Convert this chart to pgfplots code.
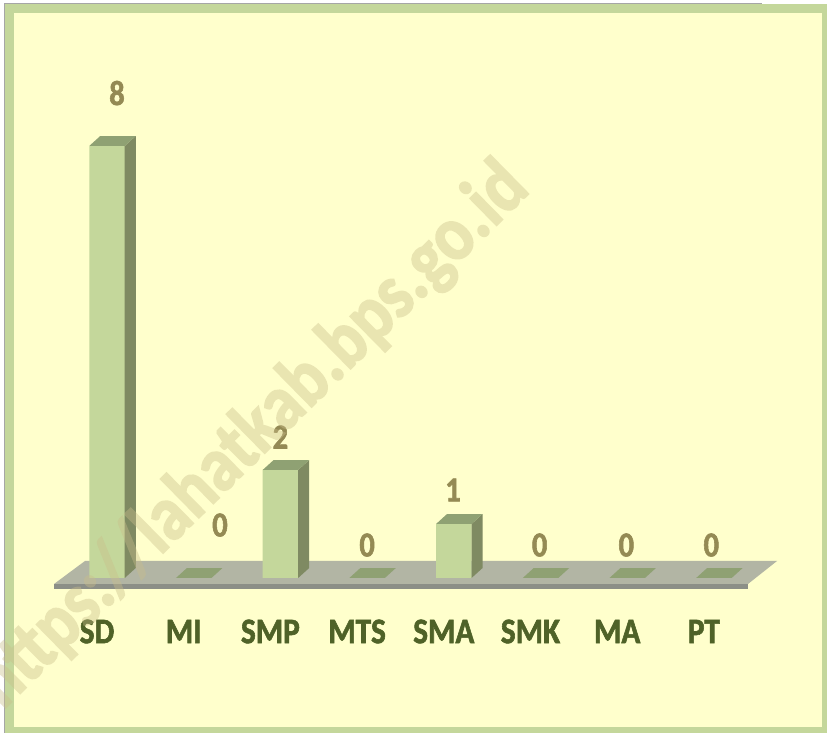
\documentclass[border=0pt]{standalone}
\usepackage{pgfplots}
\pgfplotsset{compat=1.18}
\usepackage{fontspec}
\setmainfont{Carlito}[FakeStretch=0.87]
\newfontfamily\calb{Carlito Bold}[FakeStretch=0.87, FakeBold=1.6]
\newfontfamily\wmfont{Carlito Bold}[FakeStretch=0.87, FakeBold=2]

\definecolor{framegreen}{HTML}{C4D79B}
\definecolor{bgyellow}{HTML}{FFFFCC}
\definecolor{barfront}{HTML}{C4D79B}
\definecolor{barside}{HTML}{7F8A62}
\definecolor{bartop}{HTML}{8FA173}
\definecolor{floortop}{HTML}{B2B5A4}
\definecolor{flooredge}{HTML}{8C8F87}
\definecolor{valcolor}{HTML}{948A54}
\definecolor{catgreen}{HTML}{4F6228}
\definecolor{wmark}{HTML}{C9BE8A}

\begin{document}
\begin{tikzpicture}[x=1pt,y=1pt]
\useasboundingbox (0,0) rectangle (827,733);
% frame
\fill[white] (0,0) rectangle (827,733);
\fill[framegreen] (5,0) rectangle (827,729);
\draw[gray!70, line width=1pt] (4.5,0) -- (4.5,729.5) -- (762,729.5);
\fill[bgyellow] (14,6) rectangle (822,720);

\begin{axis}[
    at={(20.3pt,101pt)}, anchor=south west,
    x=86.7pt, y=54pt,
    xmin=-1, xmax=8, ymin=-1, ymax=10,
    axis line style={draw=none},
    major tick length=0pt,
    ytick=\empty,
    xtick={0,...,7},
    xticklabels={SD,MI,SMP,MTS,SMA,SMK,MA,PT},
    xticklabel style={anchor=center, xshift=-10pt, yshift=0.5pt,
        text=catgreen, font=\calb\fontsize{36}{40}\selectfont},
    clip=false,
]
% floor
\addplot[fill=floortop, draw=none] coordinates
    {(-0.611,-0.111) (7.393,-0.111) (7.728,0.315) (-0.254,0.315)} -- cycle;
\addplot[fill=flooredge, draw=none] coordinates
    {(-0.611,-0.111) (7.393,-0.111) (7.393,-0.204) (-0.611,-0.204)} -- cycle;

% front faces
\addplot[ybar, bar width=35.5pt, fill=barfront, draw=none] coordinates
    {(0,8) (1,0) (2,2) (3,0) (4,1) (5,0) (6,0) (7,0)};

% side faces
\addplot[fill=barside, draw=none] coordinates
    {(0.2047,0) (0.3316,0.185) (0.3316,8.185) (0.2047,8)} -- cycle;
\addplot[fill=barside, draw=none] coordinates
    {(2.2047,0) (2.3316,0.185) (2.3316,2.185) (2.2047,2)} -- cycle;
\addplot[fill=barside, draw=none] coordinates
    {(4.2047,0) (4.3316,0.185) (4.3316,1.185) (4.2047,1)} -- cycle;

% top faces
\addplot[fill=bartop, draw=none] coordinates
    {(-0.2047,8) (0.2047,8) (0.3316,8.185) (-0.0778,8.185)} -- cycle;
\addplot[fill=bartop, draw=none] coordinates
    {(1.7953,2) (2.2047,2) (2.3316,2.185) (1.9222,2.185)} -- cycle;
\addplot[fill=bartop, draw=none] coordinates
    {(3.7953,1) (4.2047,1) (4.3316,1.185) (3.9222,1.185)} -- cycle;
% zero bars
\addplot[fill=bartop, draw=none] coordinates
    {(0.7953,0) (1.2047,0) (1.3316,0.185) (0.9222,0.185)} -- cycle;
\addplot[fill=bartop, draw=none] coordinates
    {(2.7953,0) (3.2047,0) (3.3316,0.185) (2.9222,0.185)} -- cycle;
\addplot[fill=bartop, draw=none] coordinates
    {(4.7953,0) (5.2047,0) (5.3316,0.185) (4.9222,0.185)} -- cycle;
\addplot[fill=bartop, draw=none] coordinates
    {(5.7953,0) (6.2047,0) (6.3316,0.185) (5.9222,0.185)} -- cycle;
\addplot[fill=bartop, draw=none] coordinates
    {(6.7953,0) (7.2047,0) (7.3316,0.185) (6.9222,0.185)} -- cycle;

% value labels
\addplot[draw=none, mark=none, nodes near coords, point meta=explicit symbolic,
    every node near coord/.append style={anchor=center, text=valcolor,
        font=\calb\fontsize{35}{40}\selectfont}]
    coordinates {(0.115,8.98)[8] (1.303,0.98)[0] (2.0,2.61)[2] (3.0,0.61)[0]
                 (3.99,1.63)[1] (4.99,0.61)[0] (5.99,0.61)[0] (6.97,0.61)[0]};
\end{axis}

% watermark
\begin{scope}
\clip (0,0) rectangle (827,733);
\begin{scope}[transparency group, opacity=0.4]
\node[anchor=base, rotate=44.5, text=wmark,
      font=\wmfont\fontsize{78}{80}\selectfont, inner sep=0pt]
    at (267,282) {https://lahatkab.bps.go.id};
\end{scope}
\end{scope}
\end{tikzpicture}
\end{document}
